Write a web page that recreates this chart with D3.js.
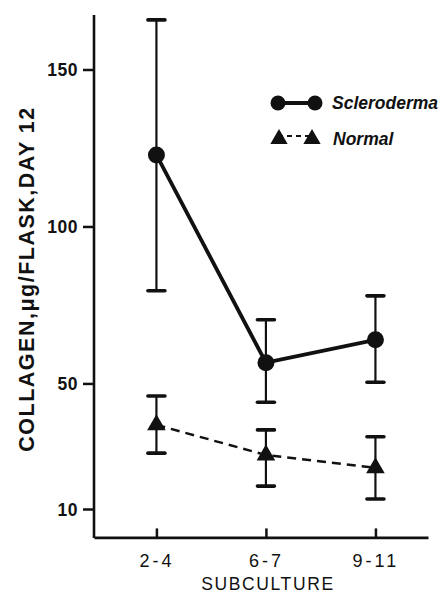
<!DOCTYPE html>
<html><head><meta charset="utf-8">
<script src="https://cdn.jsdelivr.net/npm/d3@7"></script>
<style>body{margin:0;background:#fff}svg{display:block}</style>
</head><body>
<script>
const categories = ["2-4", "6-7", "9-11"];
const sclMean = [122.8, 56.6, 63.9];
const sclHigh = [165.8, 70.3, 77.9];
const sclLow  = [79.5, 44.0, 50.4];
const norMean = [36.8, 27.2, 23.1];
const norHigh = [46.0, 35.2, 33.0];
const norLow  = [27.8, 17.3, 13.2];
const yTicks = [10, 50, 100, 150];

const W = 443, H = 593;
const svg = d3.select("body").append("svg").attr("width", W).attr("height", H);
const ink = "#111";
const font = "Liberation Sans, Arial, sans-serif";

const x = d3.scaleLinear().domain([-0.57, 2.48]).range([94, 428]);
const y = d3.scaleLinear().domain([0, 150]).range([540.4, 69.5]);

// axes
const yAxis = d3.axisLeft(y).tickValues(yTicks).tickSize(11).tickPadding(5);
const gy = svg.append("g").attr("transform", "translate(94,0)").call(yAxis);
gy.select(".domain").remove();
gy.selectAll(".tick line").attr("stroke", ink).attr("stroke-width", 2.5);
gy.selectAll(".tick text").attr("font-family", font)
  .attr("font-size", 17.5).attr("font-weight", "bold").attr("fill", ink).attr("dy", "0.36em")
  .attr("letter-spacing", 0.5);
svg.append("line").attr("x1", 94).attr("x2", 94).attr("y1", 15).attr("y2", y(0) - 2.5)
  .attr("stroke", ink).attr("stroke-width", 2.6);

const xAxis = d3.axisBottom(x).tickValues([0, 1, 2]).tickFormat(i => categories[i])
  .tickSizeInner(-9).tickSizeOuter(0).tickPadding(17);
const gx = svg.append("g").attr("transform", `translate(0,${y(0) - 3})`).call(xAxis);
gx.select(".domain").attr("stroke", ink).attr("stroke-width", 2.6);
gx.selectAll(".tick line").attr("stroke", ink).attr("stroke-width", 2.5);
gx.selectAll(".tick text").attr("font-family", font)
  .attr("font-size", 18).attr("fill", ink).attr("letter-spacing", 3);

svg.append("text").attr("x", 268).attr("y", 590).attr("text-anchor", "middle")
  .attr("font-family", font).attr("font-size", 17.5)
  .attr("letter-spacing", 1.6).attr("fill", ink).text("SUBCULTURE");

svg.append("text").attr("transform", "translate(34,279) rotate(-90)").attr("text-anchor", "middle")
  .attr("font-family", font).attr("font-size", 21.5)
  .attr("font-weight", "bold").attr("letter-spacing", 1.5).attr("fill", ink).text("COLLAGEN,\u03bcg/FLASK,DAY 12");

// error bars
function errBars(high, low) {
  const g = svg.append("g");
  categories.forEach((c, i) => {
    g.append("line").attr("x1", x(i)).attr("x2", x(i)).attr("y1", y(high[i])).attr("y2", y(low[i]))
      .attr("stroke", ink).attr("stroke-width", 2.2);
    [high[i], low[i]].forEach(v => {
      g.append("line").attr("x1", x(i) - 8.5).attr("x2", x(i) + 8.5).attr("y1", y(v)).attr("y2", y(v))
        .attr("stroke", ink).attr("stroke-width", 3.6).attr("stroke-linecap", "round");
    });
  });
}
errBars(sclHigh, sclLow);
errBars(norHigh, norLow);

const line = d3.line().x((d, i) => x(i)).y(d => y(d));
svg.append("path").attr("d", line(sclMean)).attr("fill", "none").attr("stroke", ink).attr("stroke-width", 3.8);
svg.append("path").attr("d", line(norMean)).attr("fill", "none").attr("stroke", ink)
  .attr("stroke-width", 2.4).attr("stroke-dasharray", "9,6");

const circ = d3.symbol().type(d3.symbolCircle).size(Math.PI * 8.5 * 8.5);
const tri = d3.symbol().type(d3.symbolTriangle).size(150);
svg.selectAll(".sc").data(sclMean).enter().append("path")
  .attr("d", circ).attr("transform", (d, i) => `translate(${x(i)},${y(d)})`).attr("fill", ink);
svg.selectAll(".nt").data(norMean).enter().append("path")
  .attr("d", tri).attr("transform", (d, i) => `translate(${x(i)},${y(d)})`).attr("fill", ink);

// legend
const lg = svg.append("g");
lg.append("line").attr("x1", 278).attr("x2", 315).attr("y1", 103).attr("y2", 103).attr("stroke", ink).attr("stroke-width", 3.8);
[278, 315].forEach(cx => lg.append("path").attr("d", d3.symbol().type(d3.symbolCircle).size(Math.PI * 7.5 * 7.5))
  .attr("transform", `translate(${cx},103)`).attr("fill", ink));
lg.append("line").attr("x1", 278).attr("x2", 313).attr("y1", 136).attr("y2", 136).attr("stroke", ink)
  .attr("stroke-width", 2.2).attr("stroke-dasharray", "5,4");
[279, 312].forEach(cx => lg.append("path").attr("d", d3.symbol().type(d3.symbolTriangle).size(130))
  .attr("transform", `translate(${cx},139)`).attr("fill", ink));
lg.append("text").attr("x", 332).attr("y", 109).attr("font-family", font)
  .attr("font-size", 17.5).attr("font-style", "italic").attr("font-weight", "bold").attr("fill", ink).text("Scleroderma");
lg.append("text").attr("x", 333).attr("y", 145).attr("font-family", font)
  .attr("font-size", 17.5).attr("font-style", "italic").attr("font-weight", "bold").attr("fill", ink).text("Normal");
</script>
</body></html>
